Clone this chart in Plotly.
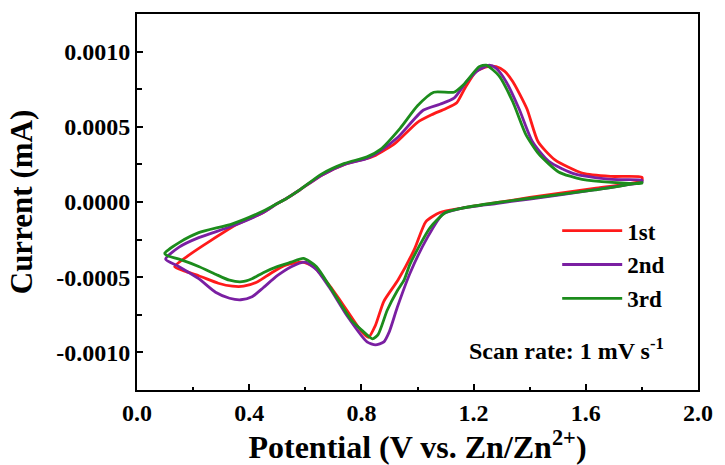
import plotly.graph_objects as go

# ---- data (Potential V, Current mA), one closed CV loop per cycle ----
v_1st = [0.134, 0.18, 0.26, 0.36, 0.45, 0.50, 0.53, 0.58, 0.66, 0.74, 0.82, 0.85, 0.92, 1.00, 1.05, 1.10, 1.14, 1.17, 1.21, 1.25, 1.28, 1.31, 1.34, 1.39, 1.43, 1.49, 1.59, 1.69, 1.80,
         1.80, 1.75, 1.63, 1.40, 1.28, 1.16, 1.08, 1.03, 0.99, 0.93, 0.88, 0.85, 0.825, 0.80, 0.73, 0.68, 0.63, 0.59, 0.53, 0.48, 0.43, 0.38, 0.34, 0.29, 0.22, 0.17, 0.134]
i_1st = [-0.00043, -0.00036, -0.00026, -0.000145, -0.00007, -0.00001, 0.00002, 0.00008, 0.00018, 0.00025, 0.00029, 0.00031, 0.00039, 0.00053, 0.00058, 0.00062, 0.00066, 0.00076, 0.00087, 0.00090, 0.00090, 0.00087, 0.00080, 0.00062, 0.00040, 0.00028, 0.00019, 0.00017, 0.000165,
         0.00014, 0.00012, 0.00009, 0.00003, -0.000005, -0.00004, -0.00007, -0.00013, -0.00031, -0.00052, -0.00066, -0.00082, -0.00090, -0.00086, -0.00067, -0.00054, -0.00043, -0.00040, -0.00042, -0.00047, -0.00053, -0.00056, -0.00056, -0.00054, -0.00049, -0.00046, -0.00043]

v_2nd = [0.102, 0.15, 0.22, 0.34, 0.45, 0.50, 0.53, 0.58, 0.66, 0.74, 0.82, 0.86, 0.93, 1.02, 1.08, 1.13, 1.175, 1.22, 1.256, 1.28, 1.316, 1.362, 1.41, 1.468, 1.563, 1.693, 1.80,
         1.80, 1.75, 1.63, 1.40, 1.28, 1.16, 1.09, 1.034, 0.974, 0.928, 0.90, 0.88, 0.85, 0.82, 0.75, 0.69, 0.64, 0.60, 0.55, 0.50, 0.45, 0.41, 0.37, 0.33, 0.28, 0.22, 0.15, 0.102]
i_2nd = [-0.00038, -0.00030, -0.000237, -0.00016, -0.00007, -0.00001, 0.00002, 0.00008, 0.00018, 0.00025, 0.00029, 0.00033, 0.00043, 0.00061, 0.00065, 0.00069, 0.00080, 0.00088, 0.00091, 0.00089, 0.00080, 0.00062, 0.00040, 0.00027, 0.000185, 0.00015, 0.000145,
         0.00013, 0.000115, 0.00008, 0.00002, -0.00001, -0.00004, -0.00008, -0.00024, -0.00047, -0.00070, -0.00086, -0.00093, -0.00095, -0.00093, -0.00076, -0.00058, -0.00045, -0.00040, -0.00043, -0.00049, -0.00057, -0.00063, -0.00065, -0.00064, -0.00060, -0.00051, -0.00043, -0.00038]

v_3rd = [0.099, 0.15, 0.22, 0.34, 0.45, 0.50, 0.53, 0.58, 0.656, 0.74, 0.82, 0.868, 0.938, 1.00, 1.058, 1.13, 1.164, 1.22, 1.245, 1.29, 1.34, 1.386, 1.432, 1.503, 1.587, 1.693, 1.80,
         1.80, 1.75, 1.63, 1.40, 1.28, 1.16, 1.10, 1.045, 0.974, 0.952, 0.928, 0.892, 0.86, 0.84, 0.80, 0.762, 0.69, 0.64, 0.593, 0.55, 0.50, 0.45, 0.41, 0.374, 0.33, 0.28, 0.222, 0.15, 0.106, 0.099]
i_3rd = [-0.00034, -0.00027, -0.000204, -0.000145, -0.00006, -0.00001, 0.00002, 0.00008, 0.000184, 0.000257, 0.00030, 0.00035, 0.00049, 0.00064, 0.00073, 0.00073, 0.00078, 0.00090, 0.00091, 0.00084, 0.000665, 0.00045, 0.00032, 0.00020, 0.00015, 0.00013, 0.000125,
         0.00013, 0.000115, 0.00008, 0.000025, -0.000005, -0.00004, -0.00007, -0.00017, -0.00041, -0.00052, -0.00059, -0.00072, -0.00088, -0.00091, -0.00085, -0.00078, -0.00057, -0.00043, -0.000375, -0.00040, -0.00043, -0.00047, -0.00051, -0.00053, -0.00052, -0.00048, -0.00043, -0.00038, -0.000355, -0.00034]

series_names = ["1st", "2nd", "3rd"]
series_colors = ["#FF1A1A", "#7A1FA2", "#1C8C1C"]

x_tickvals = [0.0, 0.4, 0.8, 1.2, 1.6, 2.0]
x_ticktext = ["0.0", "0.4", "0.8", "1.2", "1.6", "2.0"]
y_tickvals = [0.0010, 0.0005, 0.0, -0.0005, -0.0010]
y_ticktext = ["0.0010", "0.0005", "0.0000", "-0.0005", "-0.0010"]

FONT = "Liberation Serif"

fig = go.Figure()
for name, vx, iy, col in zip(series_names, [v_1st, v_2nd, v_3rd], [i_1st, i_2nd, i_3rd], series_colors):
    fig.add_trace(go.Scatter(x=vx, y=iy, mode="lines", name=name, legendgroup=name,
                             line=dict(color=col, width=2.8, shape="spline", smoothing=0.6)))

axis_common = dict(showline=True, linecolor="black", linewidth=2, mirror=True,
                   ticks="inside", tickcolor="black", tickwidth=2, ticklen=6,
                   showgrid=False, zeroline=False,
                   tickfont=dict(family=FONT, size=24, color="black", weight="bold"))

fig.update_xaxes(range=[0, 2.0], tickvals=x_tickvals, ticktext=x_ticktext,
                 minor=dict(dtick=0.2, tick0=0, ticks="inside", ticklen=3, tickwidth=2, tickcolor="black"),
                 title=dict(text="Potential (V vs. Zn/Zn<sup>2+</sup>)", standoff=5,
                            font=dict(family=FONT, size=32, color="black", weight="bold")),
                 **axis_common)
fig.update_yaxes(range=[-0.00125, 0.00125], tickvals=y_tickvals, ticktext=y_ticktext,
                 minor=dict(dtick=0.00025, tick0=0, ticks="inside", ticklen=5, tickwidth=2, tickcolor="black"),
                 title=dict(text="Current (mA)", standoff=14,
                            font=dict(family=FONT, size=31, color="black", weight="bold")),
                 **axis_common)

fig.add_annotation(x=1.53, y=-0.00098, xref="x", yref="y", showarrow=False,
                   text="Scan rate: 1 mV s<sup>-1</sup>",
                   font=dict(family=FONT, size=24, color="black", weight="bold"))

fig.update_layout(
    width=725, height=465,
    margin=dict(l=137, r=21, t=12, b=74),
    paper_bgcolor="white", plot_bgcolor="white",
    showlegend=True,
    legend=dict(x=0.749, y=0.481, xanchor="left", yanchor="top", bgcolor="rgba(0,0,0,0)",
                itemwidth=60, tracegroupgap=1,
                font=dict(family=FONT, size=23, color="black", weight="bold")),
)

fig.write_html("out.html")
